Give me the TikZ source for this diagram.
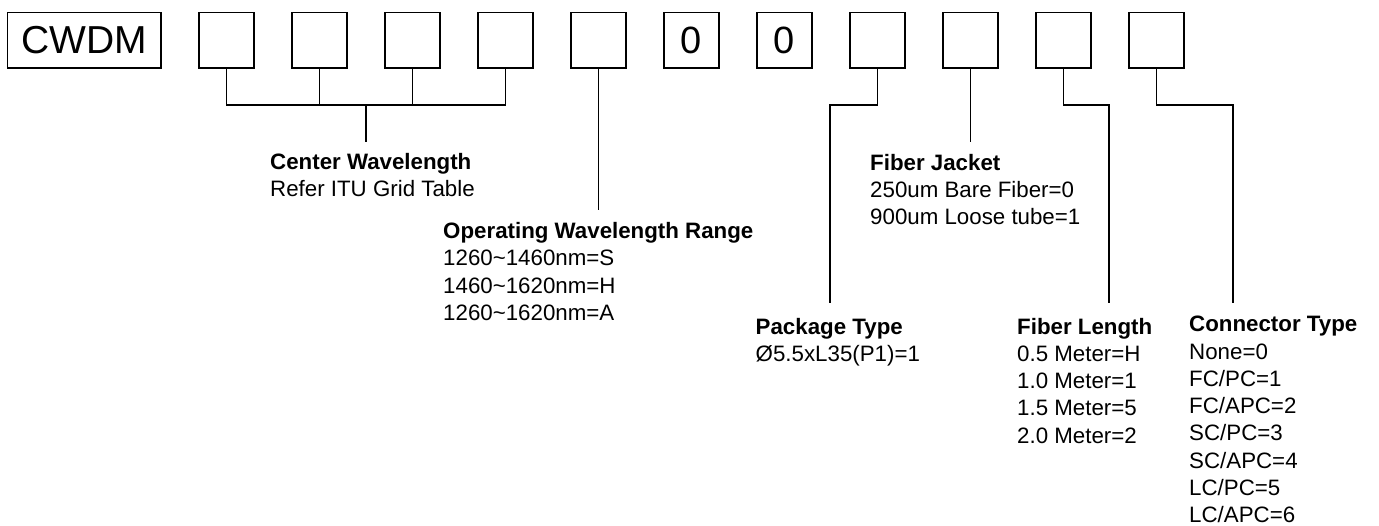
\documentclass[tikz,border=0pt]{standalone}
\usepackage{fontspec}
\setmainfont{Liberation Sans}
\begin{document}
\begin{tikzpicture}[x=1pt,y=-1pt,
  box/.style={draw,line width=1.6pt,minimum width=55.5pt,minimum height=55.5pt,inner sep=0pt,font=\fontsize{38}{40}\selectfont},
  conn/.style={line width=1.6pt},
  lbl/.style={anchor=base west,inner sep=0pt,font=\fontsize{22.3}{27.3}\selectfont}]
\useasboundingbox (0,0) rectangle (1379,525);
% code boxes
\node[box,minimum width=153.7pt,font=\fontsize{39}{41}\selectfont] (cwdm) at (84.35,40.35) {CWDM};
\node[box] (b1) at (226.5,40.35) {};
\node[box] (b2) at (319.5,40.35) {};
\node[box] (b3) at (412.5,40.35) {};
\node[box] (b4) at (505.5,40.35) {};
\node[box] (b5) at (598.5,40.35) {};
\node[box] (b6) at (691.5,40.35) {0};
\node[box] (b7) at (784.5,40.35) {0};
\node[box] (b8) at (877.5,40.35) {};
\node[box] (b9) at (970.5,40.35) {};
\node[box] (b10) at (1063.5,40.35) {};
\node[box] (b11) at (1156.5,40.35) {};
% labels
\node[lbl] (cw) at (270,169.5) {\begin{tabular}[t]{@{}l@{}}\textbf{Center Wavelength}\\Refer ITU Grid Table\end{tabular}};
\node[lbl] (op) at (443,238.5) {\begin{tabular}[t]{@{}l@{}}\textbf{Operating Wavelength Range}\\1260\textasciitilde1460nm=S\\1460\textasciitilde1620nm=H\\1260\textasciitilde1620nm=A\end{tabular}};
\node[lbl] (fj) at (870,170) {\begin{tabular}[t]{@{}l@{}}\textbf{Fiber Jacket}\\250um Bare Fiber=0\\900um Loose tube=1\end{tabular}};
\node[lbl] (pt) at (755.5,334) {\begin{tabular}[t]{@{}l@{}}\textbf{Package Type}\\Ø5.5xL35(P1)=1\end{tabular}};
\node[lbl] (fl) at (1017,334) {\begin{tabular}[t]{@{}l@{}}\textbf{Fiber Length}\\0.5 Meter=H\\1.0 Meter=1\\1.5 Meter=5\\2.0 Meter=2\end{tabular}};
\node[lbl] (ct) at (1189,331.7) {\begin{tabular}[t]{@{}l@{}}\textbf{Connector Type}\\None=0\\FC/PC=1\\FC/APC=2\\SC/PC=3\\SC/APC=4\\LC/PC=5\\LC/APC=6\end{tabular}};
% junction and end coordinates
\coordinate (j) at (366,105);
\coordinate (cwend) at (366,142);
\coordinate (opend) at (598.5,210);
\coordinate (ptbend) at (830,105);
\coordinate (ptend) at (830,303);
\coordinate (fjend) at (970.5,142);
\coordinate (flbend) at (1109,105);
\coordinate (flend) at (1109,303);
\coordinate (ctbend) at (1233,105);
\coordinate (ctend) at (1233,303);
% connectors
\draw[conn] (b1.south) -- (b1.south |- j) -- (b4.south |- j) -- (b4.south);
\draw[conn] (b2.south) -- (b2.south |- j);
\draw[conn] (b3.south) -- (b3.south |- j);
\draw[conn] (j) -- (cwend);
\draw[conn] (b5.south) -- (opend);
\draw[conn] (b8.south) -- (b8.south |- ptbend) -- (ptbend) -- (ptend);
\draw[conn] (b9.south) -- (fjend);
\draw[conn] (b10.south) -- (b10.south |- flbend) -- (flbend) -- (flend);
\draw[conn] (b11.south) -- (b11.south |- ctbend) -- (ctbend) -- (ctend);
\end{tikzpicture}
\end{document}
